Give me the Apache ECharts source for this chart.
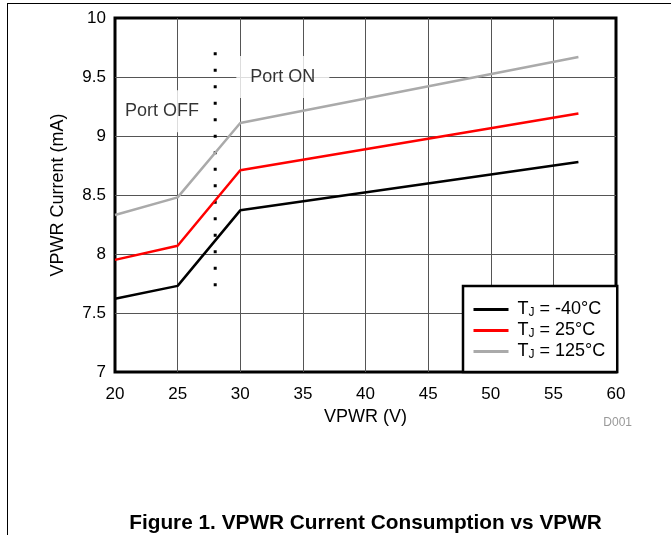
<!DOCTYPE html>
<html>
<head>
<meta charset="utf-8">
<script src="https://cdn.jsdelivr.net/npm/echarts@6/dist/echarts.min.js"></script>
<style>
html,body{margin:0;padding:0;background:#fff;}
#c{width:671px;height:535px;}
</style>
</head>
<body>
<div id="c"></div>
<script>
// ---- data ----
const vpwr = [20, 25, 30, 57];
const curM40 = [7.62, 7.73, 8.37, 8.78];
const cur25 = [7.95, 8.07, 8.71, 9.19];
const cur125 = [8.33, 8.48, 9.11, 9.67];
const seriesNames = ['TJ = -40°C', 'TJ = 25°C', 'TJ = 125°C'];
const legendTemps = ['-40°C', '25°C', '125°C'];
const dividerX = [28, 28];
const dividerY = [9.71, 7.70];
const annotations = [
  { text: 'Port ON', x: 33.4, y: 9.5 },
  { text: 'Port OFF', x: 23.75, y: 9.21 }
];
const xMin = 20, xMax = 60, xStep = 5;
const yMin = 7, yMax = 10, yStep = 0.5;

const FONT = '"Liberation Sans", Arial, sans-serif';
const chart = echarts.init(document.getElementById('c'), null, { renderer: 'canvas' });

function pairs(xs, ys) { return xs.map((x, i) => [x, ys[i]]); }
const colors = ['#000000', '#ff0000', '#aaaaaa'];

const lineSeries = [curM40, cur25, cur125].map((ys, i) => ({
  name: seriesNames[i],
  type: 'line',
  data: pairs(vpwr, ys),
  symbol: 'none',
  z: 5,
  lineStyle: { width: 2.5, color: colors[i] },
  itemStyle: { color: colors[i] }
}));

const option = {
  animation: false,
  backgroundColor: '#ffffff',
  grid: {
    left: 115, top: 18, right: 55, bottom: 163,
    show: true, borderColor: '#000', borderWidth: 3, backgroundColor: 'transparent',
    containLabel: false
  },
  xAxis: {
    type: 'value', min: xMin, max: xMax, interval: xStep,
    name: 'VPWR (V)', nameLocation: 'middle', nameGap: 32,
    nameTextStyle: { fontFamily: FONT, fontSize: 18, color: '#000' },
    axisLine: { show: false }, axisTick: { show: false },
    axisLabel: { fontFamily: FONT, fontSize: 17, color: '#000', margin: 14 },
    splitLine: { show: true, showMinLine: false, showMaxLine: false, lineStyle: { color: '#555', width: 1 } }
  },
  yAxis: {
    type: 'value', min: yMin, max: yMax, interval: yStep,
    name: 'VPWR Current (mA)', nameLocation: 'middle', nameGap: 48,
    nameTextStyle: { fontFamily: FONT, fontSize: 18, color: '#000' },
    axisLine: { show: false }, axisTick: { show: false },
    axisLabel: { fontFamily: FONT, fontSize: 17, color: '#000', margin: 9 },
    splitLine: { show: true, showMinLine: false, showMaxLine: false, lineStyle: { color: '#555', width: 1 } }
  },
  legend: {
    orient: 'vertical',
    left: 463, bottom: 163,
    data: seriesNames,
    backgroundColor: '#fff',
    borderColor: '#000', borderWidth: 2.5, borderRadius: 0,
    padding: [14, 12, 11, 9],
    itemWidth: 35, itemHeight: 3, itemGap: 2,
    itemStyle: { opacity: 0 },
    lineStyle: { width: 3, opacity: 1 },
    selectedMode: false,
    formatter: function (name) {
      const i = seriesNames.indexOf(name);
      return '{t|T}{s|J}{t| = ' + legendTemps[i] + '}';
    },
    textStyle: {
      fontFamily: FONT, fontSize: 18, color: '#000', padding: [0, 0, 0, 4],
      rich: {
        t: { fontFamily: FONT, fontSize: 18, color: '#000', lineHeight: 18 },
        s: { fontFamily: FONT, fontSize: 12, color: '#000', lineHeight: 18, padding: [7, 0, 0, 0] }
      }
    }
  },
  graphic: [
    { type: 'line', shape: { x1: 7, y1: 3.5, x2: 671, y2: 3.5 }, style: { stroke: '#000', lineWidth: 1 }, silent: true },
    { type: 'line', shape: { x1: 7.5, y1: 3, x2: 7.5, y2: 535 }, style: { stroke: '#000', lineWidth: 1 }, silent: true },
    { type: 'text', x: 632, y: 423, style: { text: 'D001', fill: '#999', font: '12px ' + FONT, textAlign: 'right', textVerticalAlign: 'middle' } },
    { type: 'text', x: 365.5, y: 523.5, style: { text: 'Figure 1. VPWR Current Consumption vs VPWR', fill: '#000', font: 'bold 20.8px ' + FONT, textAlign: 'center', textVerticalAlign: 'middle' } }
  ],
  series: lineSeries.concat([
    {
      name: 'divider', type: 'line', data: pairs(dividerX, dividerY), symbol: 'none', z: 4,
      lineStyle: { color: '#000', width: 3, type: [3, 13.5], cap: 'butt' }
    },
    {
      name: 'annot', type: 'scatter', symbolSize: 0, z: 3,
      data: annotations.map((a, i) => ({
        value: [a.x, a.y], name: a.text,
        label: { padding: i === 0 ? [12, 14] : [12, 8] }
      })),
      label: {
        show: true, position: 'inside', formatter: p => p.name,
        fontFamily: FONT, fontSize: 18, color: '#000',
        backgroundColor: '#fff'
      }
    }
  ])
};
chart.setOption(option);
</script>
</body>
</html>
